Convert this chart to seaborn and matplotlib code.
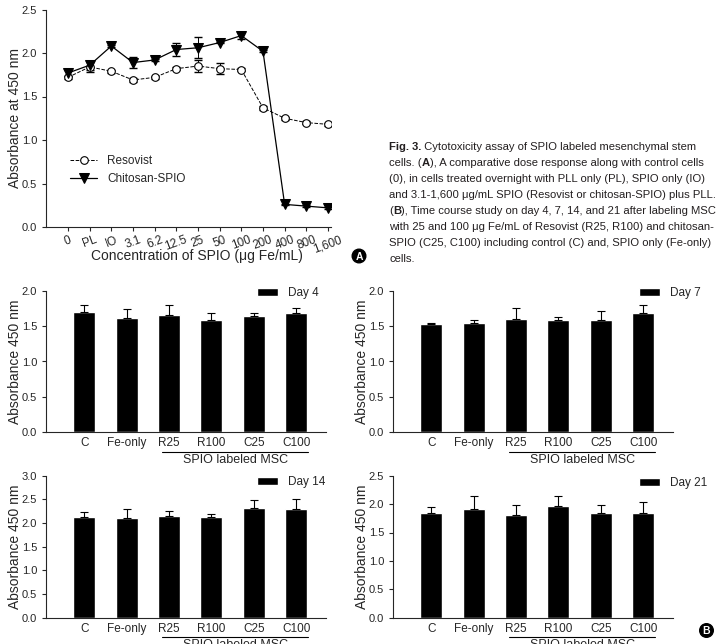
import numpy as np
import matplotlib
matplotlib.use("Agg")
import matplotlib.pyplot as plt
import matplotlib.transforms as mtransforms
from matplotlib.patches import Circle
import seaborn as sns

# Panel A: dose response
conc_labels = ["0", "PL", "IO", "3.1", "6.2", "12.5", "25", "50", "100", "200", "400", "800", "1,600"]
resovist = [1.72, 1.84, 1.79, 1.69, 1.72, 1.82, 1.85, 1.82, 1.81, 1.37, 1.25, 1.20, 1.18]
resovist_err = [0.02, 0.06, 0.02, 0.02, 0.02, 0.02, 0.07, 0.06, 0.02, 0.02, 0.02, 0.02, 0.02]
chitosan = [1.77, 1.86, 2.08, 1.89, 1.92, 2.04, 2.06, 2.12, 2.20, 2.02, 0.26, 0.24, 0.22]
chitosan_err = [0.03, 0.05, 0.01, 0.06, 0.01, 0.07, 0.12, 0.01, 0.04, 0.01, 0.01, 0.01, 0.01]

# Panel B: time course
groups = ["C", "Fe-only", "R25", "R100", "C25", "C100"]
day4 = [1.70, 1.62, 1.66, 1.58, 1.64, 1.68]
day4_err = [0.10, 0.12, 0.14, 0.11, 0.05, 0.07]
day7 = [1.53, 1.55, 1.60, 1.58, 1.58, 1.69]
day7_err = [0.01, 0.03, 0.15, 0.05, 0.14, 0.11]
day14 = [2.12, 2.11, 2.15, 2.13, 2.31, 2.30]
day14_err = [0.12, 0.18, 0.11, 0.07, 0.17, 0.21]
day21 = [1.84, 1.91, 1.80, 1.97, 1.85, 1.84]
day21_err = [0.11, 0.23, 0.18, 0.17, 0.13, 0.19]

caption = [
    [("Fig. 3.", True), (" Cytotoxicity assay of SPIO labeled mesenchymal stem", False)],
    [("cells. (", False), ("A", True), ("), A comparative dose response along with control cells", False)],
    [("(0), in cells treated overnight with PLL only (PL), SPIO only (IO)", False)],
    [("and 3.1-1,600 \u03bcg/mL SPIO (Resovist or chitosan-SPIO) plus PLL.", False)],
    [("(", False), ("B", True), ("), Time course study on day 4, 7, 14, and 21 after labeling MSC", False)],
    [("with 25 and 100 \u03bcg Fe/mL of Resovist (R25, R100) and chitosan-", False)],
    [("SPIO (C25, C100) including control (C) and, SPIO only (Fe-only)", False)],
    [("cells.", False)],
]

sns.set_style("ticks")
plt.rcParams["font.family"] = ["Liberation Sans", "DejaVu Sans"]
plt.rcParams["axes.linewidth"] = 0.8
plt.rcParams["xtick.major.width"] = 0.8
plt.rcParams["ytick.major.width"] = 0.8
plt.rcParams["xtick.major.size"] = 3
plt.rcParams["ytick.major.size"] = 3

W, H = 717, 644
fig = plt.figure(figsize=(W / 100, H / 100), dpi=100)


def px_axes(left, top, right, bottom):
    return fig.add_axes([left / W, 1 - bottom / H, (right - left) / W, (bottom - top) / H])


# ---- panel A ----
ax = px_axes(46, 9.5, 331, 227)
xpos = np.arange(len(conc_labels))
ax.errorbar(xpos, resovist, yerr=resovist_err, fmt="none", ecolor="black", elinewidth=0.7, capsize=3, zorder=2)
ax.errorbar(xpos, chitosan, yerr=chitosan_err, fmt="none", ecolor="black", elinewidth=0.7, capsize=3, zorder=2)
sns.lineplot(x=xpos, y=resovist, ax=ax, color="black", linestyle="--", linewidth=0.7,
             marker="o", markersize=5.5, markerfacecolor="white", markeredgecolor="black",
             markeredgewidth=0.8, label="Resovist", zorder=3)
sns.lineplot(x=xpos, y=chitosan, ax=ax, color="black", linewidth=0.9,
             marker="v", markersize=6.5, markerfacecolor="black", markeredgecolor="black",
             label="Chitosan-SPIO", zorder=3)
ax.set_xlim(-1.015, 12.14)
ax.set_ylim(0, 2.5)
ax.set_yticks(np.arange(0, 2.51, 0.5))
ax.set_yticklabels([f"{v:.1f}" for v in np.arange(0, 2.51, 0.5)], fontsize=8)
ax.set_xticks(xpos)
ax.set_xticklabels(conc_labels, rotation=20, fontsize=8.5)
ax.tick_params(axis="x", pad=2)
ax.set_xlabel("Concentration of SPIO (\u03bcg Fe/mL)", fontsize=10, va="center")
ax.xaxis.set_label_coords((197 - 46) / 285, -(256 - 227) / 217.5)
ax.set_ylabel("Absorbance at 450 nm", fontsize=10, va="center")
ax.yaxis.set_label_coords(-(46 - 15) / 285, 0.5)
sns.despine(ax=ax)
ax.legend(loc="center left", bbox_to_anchor=(70 / W, 1 - 170 / H), bbox_transform=fig.transFigure,
          frameon=False, fontsize=8.5, handlelength=2.3, handletextpad=0.85, labelspacing=0.55,
          borderpad=0, borderaxespad=0)

# ---- panel B ----
panels = [
    (day4, day4_err, "Day 4", 2.0, 46, 290.7, 432.3, 257, 293),
    (day7, day7_err, "Day 7", 2.0, 393, 290.7, 432.3, 639, 293),
    (day14, day14_err, "Day 14", 3.0, 46, 475.7, 617.7, 257, 482.5),
    (day21, day21_err, "Day 21", 2.5, 393, 475.7, 617.7, 639, 483),
]
step = 42.4
for vals, errs, lab, ymax, left, top, bottom, lx, ly in panels:
    width = 6.6 * step
    bx = px_axes(left, top, left + width, bottom)
    sns.barplot(x=groups, y=vals, color="black", saturation=1, width=0.52, errorbar=None,
                ax=bx, label=lab)
    bx.errorbar(np.arange(len(groups)), vals, yerr=[np.zeros(len(errs)), errs], fmt="none",
                ecolor="black", elinewidth=0.8, capsize=3, capthick=0.8)
    bx.set_xlim(-0.9, 5.7)
    bx.set_ylim(0, ymax)
    yt = np.arange(0, ymax + 0.01, 0.5)
    bx.set_yticks(yt)
    bx.set_yticklabels([f"{v:.1f}" for v in yt], fontsize=8)
    bx.tick_params(axis="x", length=0, pad=3.5, labelsize=8.5)
    bx.set_xlabel("")
    bx.set_ylabel("Absorbance 450 nm", fontsize=10, va="center")
    bx.yaxis.set_label_coords(-31 / width, 0.5)
    sns.despine(ax=bx)
    h = bottom - top
    trans = mtransforms.blended_transform_factory(bx.transData, bx.transAxes)
    bx.plot([1.84, 5.27], [-(451.7 - 432.3) / h] * 2, transform=trans, color="black",
            linewidth=0.8, clip_on=False)
    bx.text(3.56, -(460.0 - 432.3) / h, "SPIO labeled MSC", transform=trans, ha="center",
            va="center", fontsize=9)
    bx.legend(loc="center left", bbox_to_anchor=(lx / W, 1 - ly / H), bbox_transform=fig.transFigure,
              frameon=False, fontsize=8.5, handlelength=1.8, handleheight=0.65, handletextpad=0.85,
              borderpad=0, borderaxespad=0)

# ---- caption and panel tags ----
cap = fig.add_axes([0, 0, 1, 1], zorder=-1)
cap.set_xlim(0, W)
cap.set_ylim(H, 0)
cap.axis("off")

txt_color = "#231f20"
for i, line in enumerate(caption):
    y = 147.3 + 16.0 * i
    prev = None
    for seg, bold in line:
        weight = "bold" if bold else "normal"
        if prev is None:
            prev = cap.text(389, y, seg, fontsize=8.1, fontweight=weight, color=txt_color,
                            ha="left", va="center")
        else:
            prev = cap.annotate(seg, xy=(1, 0), xycoords=prev, fontsize=8.1, fontweight=weight,
                                color=txt_color, ha="left", va="bottom")

for cx, cy, letter in [(359, 256, "A"), (706.5, 630.5, "B")]:
    cap.add_patch(Circle((cx, cy), 6.8, color="black"))
    cap.text(cx, cy + 0.5, letter, color="white", fontsize=7.5, fontweight="bold",
             ha="center", va="center")

fig.savefig("out.png", dpi=100)
